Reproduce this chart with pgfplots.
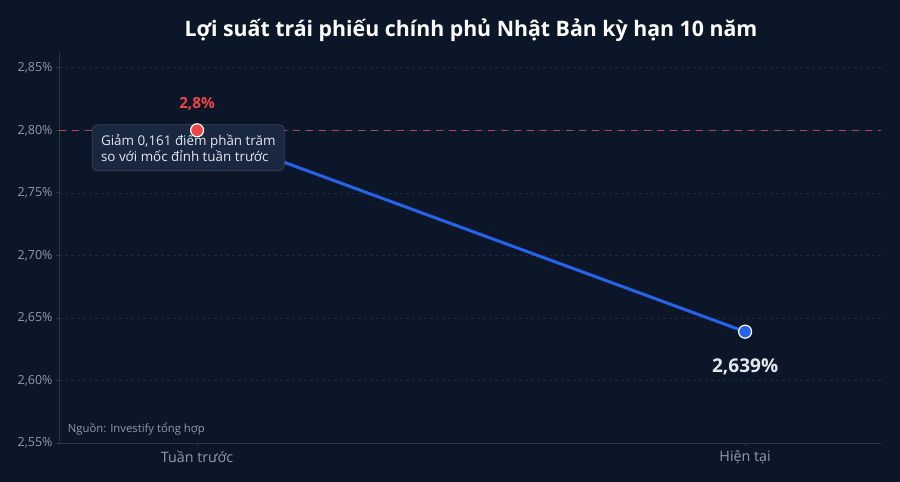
\documentclass[border=0pt]{standalone}
\usepackage{pgfplots}
\pgfplotsset{compat=1.18}
\usepackage{fontspec}
\setmainfont{Open Sans}

\definecolor{bg}{HTML}{0B1628}
\definecolor{axisline}{HTML}{2A384C}
\definecolor{gridc}{HTML}{1F2B3D}
\definecolor{ticktxt}{HTML}{8F9BAD}
\definecolor{linec}{HTML}{2563EB}
\definecolor{redc}{HTML}{EF4444}
\definecolor{dashc}{HTML}{B8454F}
\definecolor{boxfill}{HTML}{1A2740}
\definecolor{boxdraw}{HTML}{36445A}
\definecolor{boxtxt}{HTML}{E2E8F0}

\begin{document}
\begin{tikzpicture}[x=1bp,y=1bp]
% background, image is 900 x 482, axis lower-left at (59,443) px
\fill[bg] (-59,-39) rectangle (841,443);
\node[font=\fontsize{21.3bp}{25bp}\selectfont\bfseries, text=white] at (412,413) {Lợi suất trái phiếu chính phủ Nhật Bản kỳ hạn 10 năm};

\begin{axis}[
  at={(0,0)}, anchor=south west,
  scale only axis,
  width=822bp, height=391bp,
  xmin=-0.252, xmax=1.248,
  ymin=2.55, ymax=2.8626,
  axis x line*=bottom,
  axis y line*=left,
  axis line style={axisline, line width=0.8pt},
  xtick={0,1},
  xticklabels={Tuần trước, Hiện tại},
  ytick={2.55,2.60,2.65,2.70,2.75,2.80,2.85},
  yticklabel={\pgfmathprintnumber{\tick}\%},
  /pgf/number format/.cd, fixed, fixed zerofill, precision=2, use comma, assume math mode=true,
  /pgfplots/.cd,
  tick style={axisline, line width=0.8pt},
  major tick length=3bp,
  tick align=outside,
  y tick label style={font=\fontsize{12.5bp}{14bp}\selectfont, text=ticktxt},
  x tick label style={font=\fontsize{14.3bp}{16bp}\selectfont, text=ticktxt, yshift=-1bp},
  ymajorgrids,
  grid style={gridc, dashed, line width=0.6pt},
  clip=false,
]
% reference level 2.80
\addplot[dashc, line width=1.4pt, dash pattern=on 7bp off 6bp, forget plot] coordinates {(-0.252,2.80) (1.248,2.80)};
% yield line
\addplot[linec, line width=3bp] coordinates {(0,2.800) (1,2.639)};
% annotation
\node[draw=boxdraw, fill=boxfill, rounded corners=5bp, line width=0.8pt,
      anchor=north west, minimum width=192bp, minimum height=46bp,
      inner xsep=7bp, inner ysep=5bp, align=left, text=boxtxt,
      font=\fontsize{13.4bp}{16bp}\selectfont]
  at (axis cs:-0.192,2.8048) {Giảm 0,161 điểm phần trăm\\so với mốc đỉnh tuần trước};
% markers
\addplot[only marks, mark=*, mark size=6.5bp, mark options={fill=redc, draw=white, line width=1.2pt}] coordinates {(0,2.800)};
\addplot[only marks, mark=*, mark size=6.5bp, mark options={fill=linec, draw=white, line width=1.2pt}] coordinates {(1,2.639)};
% value labels
\node[text=redc, font=\fontsize{15.3bp}{18bp}\selectfont\bfseries] at (axis cs:0,2.8213) {2,8\%};
\node[text=boxtxt, font=\fontsize{19bp}{22bp}\selectfont\bfseries] at (axis cs:1,2.611) {2,639\%};
% source
\node[anchor=west, text=ticktxt, font=\fontsize{11.3bp}{13bp}\selectfont, inner xsep=0pt] at (axis cs:-0.236,2.561) {Nguồn: Investify tổng hợp};
\end{axis}
\end{tikzpicture}
\end{document}
